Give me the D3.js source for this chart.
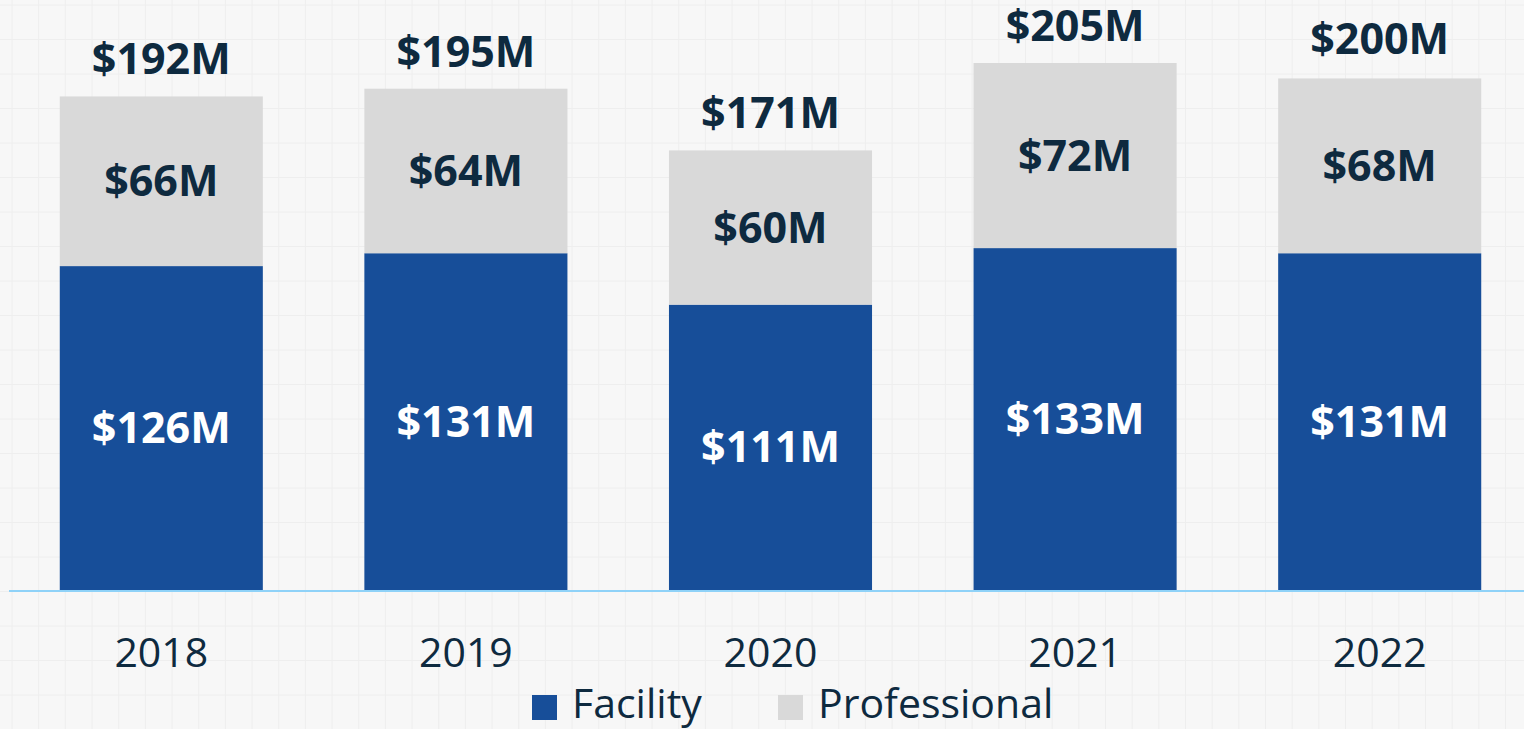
<!DOCTYPE html>
<html>
<head>
<meta charset="utf-8">
<script src="https://cdn.jsdelivr.net/npm/d3@7"></script>
<style>
  html, body { margin: 0; padding: 0; background: #f7f7f7; overflow: hidden; }
  svg { display: block; font-family: "Open Sans", sans-serif; }
</style>
</head>
<body>
<svg id="chart" width="1524" height="729"></svg>
<script>
// chart values ($M)
const years = ["2018", "2019", "2020", "2021", "2022"];
const facility = [126, 131, 111, 133, 131];
const professional = [66, 64, 60, 72, 68];
const totals = [192, 195, 171, 205, 200];
const seriesNames = ["Facility", "Professional"];

const colors = { Facility: "#174e99", Professional: "#d9d9d9" };
const ink = "#0e2a3f";

const svg = d3.select("#chart");
const width = +svg.attr("width");
const height = +svg.attr("height");

// faint paper grid behind everything
const bg = svg.append("g").attr("class", "paper");
bg.append("rect").attr("width", width).attr("height", height).attr("fill", "#f7f7f7");
bg.selectAll("line.v")
  .data(d3.range(12, width, 26.67))
  .enter().append("line")
  .attr("x1", d => d).attr("x2", d => d)
  .attr("y1", 0).attr("y2", height)
  .attr("stroke", "#eeeeee").attr("stroke-width", 1);
bg.selectAll("line.h")
  .data(d3.range(5, height, 34.5))
  .enter().append("line")
  .attr("x1", 0).attr("x2", width)
  .attr("y1", d => d).attr("y2", d => d)
  .attr("stroke", "#eeeeee").attr("stroke-width", 1);

// scales
const x = d3.scaleBand()
  .domain(years)
  .range([9, 1532])
  .paddingInner(1 / 3)
  .paddingOuter(1 / 6);

const y = d3.scaleLinear()
  .domain([0, 205])
  .range([590, 63]);

const rows = years.map((yr, i) => ({
  year: yr, Facility: facility[i], Professional: professional[i], total: totals[i]
}));

const stack = d3.stack().keys(seriesNames);
const layers = stack(rows);

// bars
const layerG = svg.selectAll("g.layer")
  .data(layers)
  .enter().append("g")
  .attr("class", "layer")
  .attr("fill", d => colors[d.key]);

layerG.selectAll("rect")
  .data(d => d)
  .enter().append("rect")
  .attr("x", d => x(d.data.year))
  .attr("y", d => y(d[1]))
  .attr("width", x.bandwidth())
  .attr("height", d => y(d[0]) - y(d[1]));

// segment labels
layerG.selectAll("text")
  .data(d => d.map(v => ({ key: d.key, v })))
  .enter().append("text")
  .attr("x", d => x(d.v.data.year) + x.bandwidth() / 2)
  .attr("y", d => (y(d.v[0]) + y(d.v[1])) / 2 + 15)
  .attr("text-anchor", "middle")
  .attr("font-size", 43)
  .attr("font-weight", 700)
  .attr("fill", d => d.key === "Facility" ? "#ffffff" : ink)
  .text(d => "$" + d.v.data[d.key] + "M");

// total labels
svg.append("g").selectAll("text")
  .data(rows)
  .enter().append("text")
  .attr("x", d => x(d.year) + x.bandwidth() / 2)
  .attr("y", d => y(d.total) - 22)
  .attr("text-anchor", "middle")
  .attr("font-size", 43)
  .attr("font-weight", 700)
  .attr("fill", ink)
  .text(d => "$" + d.total + "M");

// baseline
svg.append("line")
  .attr("x1", 9).attr("x2", width)
  .attr("y1", y(0) + 1).attr("y2", y(0) + 1)
  .attr("stroke", "#8fd2f8")
  .attr("stroke-width", 2);

// x axis labels
const xAxis = d3.axisBottom(x).tickSize(0).tickPadding(0);
const axisG = svg.append("g")
  .attr("transform", `translate(0, ${y(0)})`)
  .call(xAxis);
axisG.select(".domain").remove();
axisG.selectAll("text")
  .attr("y", 77)
  .attr("dy", 0)
  .attr("font-size", 41)
  .attr("font-family", "Open Sans, sans-serif")
  .attr("fill", ink);

// legend
const legendX = [532, 778];
const legend = svg.append("g").selectAll("g")
  .data(seriesNames)
  .enter().append("g")
  .attr("transform", (d, i) => `translate(${legendX[i]}, 695)`);
legend.append("rect")
  .attr("width", 25).attr("height", 25)
  .attr("fill", d => colors[d]);
legend.append("text")
  .attr("x", 40)
  .attr("y", 23)
  .attr("font-size", 41)
  .attr("fill", ink)
  .text(d => d);
</script>
</body>
</html>
